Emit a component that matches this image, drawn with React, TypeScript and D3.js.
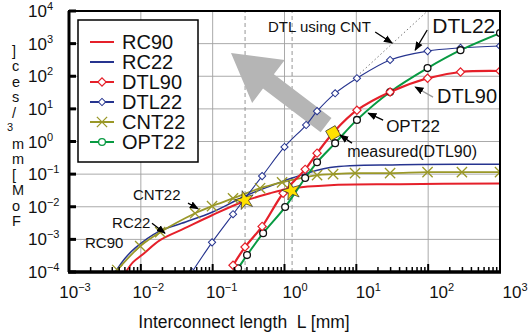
import React, { useRef, useEffect } from "react";
import * as d3 from "d3";

// L [mm] and FoM values
const rc90L = [0.0062, 0.0078, 0.0107, 0.0185, 0.041, 0.098, 0.28, 0.63, 1.28, 4.3, 41, 1000];
const rc90V = [1e-4, 2.0e-4, 3.5e-4, 9.5e-4, 2.2e-3, 5.5e-3, 1.5e-2, 2.6e-2, 3.7e-2, 4.6e-2, 4.9e-2, 5.2e-2];

const rc22L = [0.0044, 0.006, 0.0083, 0.0174, 0.042, 0.098, 0.28, 0.63, 1.28, 4.3, 41, 1000];
const rc22V = [1e-4, 2.6e-4, 5.4e-4, 1.7e-3, 3.4e-3, 6.8e-3, 2.1e-2, 4.3e-2, 7.6e-2, 0.16, 0.195, 0.2];

const cnt22L = [0.0047, 0.0098, 0.0186, 0.057, 0.098, 0.192, 0.457, 0.925, 2.84, 4.75, 9.6, 29.5, 98, 295, 1000];
const cnt22V = [1.15e-4, 6.2e-4, 1.66e-3, 6.3e-3, 1.05e-2, 1.8e-2, 3.7e-2, 5.6e-2, 9.3e-2, 0.1, 0.107, 0.107, 0.115, 0.115, 0.115];

const dtl90L = [0.192, 0.282, 0.488, 0.957, 1.94, 2.84, 5.0, 10.2, 29.5, 98, 282, 1000];
const dtl90V = [1.6e-4, 5.8e-4, 2.5e-3, 2.6e-2, 0.14, 0.44, 2.1, 9.1, 33, 87, 135, 145];

const opt22L = [0.226, 0.301, 0.504, 1.02, 1.94, 2.84, 5.07, 10.2, 29.5, 98, 282, 1000];
const opt22V = [1.3e-4, 3.3e-4, 1.55e-3, 9.8e-3, 7.6e-2, 0.23, 0.89, 4.6, 33, 178, 630, 2100];

const dtl22L = [0.0516, 0.098, 0.192, 0.488, 1.0, 2.0, 2.84, 5.07, 10.2, 29.5, 98, 282, 1000];
const dtl22V = [1e-4, 8.1e-4, 5.9e-3, 8.7e-2, 0.68, 3.2, 8.5, 30, 87, 316, 590, 740, 850];

// DTL using CNT (dotted extension)
const cntDtlL = [10.2, 98];
const cntDtlV = [100, 10000];

// RC / DTL crossover points (yellow stars) and the measured point
const starL = [0.28, 1.25];
const starV = [0.0158, 0.031];
const measuredL = [4.75];
const measuredV = [1.81];
const dashedL = [0.2825, 1.276];

const xExps = [-3, -2, -1, 0, 1, 2, 3];
const yExps = [-4, -3, -2, -1, 0, 1, 2, 3, 4];
const yTitleChars = ["]", "c", "e", "s", "/", "3", "m", "m", "[", "M", "o", "F"];

const legendNames = ["RC90", "RC22", "DTL90", "DTL22", "CNT22", "OPT22"];

// labels placed in data units: [text, L, V, fontSize]
const labels: [string, number, number, number][] = [
  ["DTL using CNT", 0.59, 2270, 15],
  ["DTL22", 114, 2110, 21],
  ["DTL90", 133, 15, 20],
  ["OPT22", 26, 1.94, 17],
  ["measured(DTL90)", 7.45, 0.332, 16],
  ["CNT22", 0.00778, 0.0158, 15],
  ["RC22", 0.00398, 0.00221, 15],
  ["RC90", 0.00167, 0.000537, 15],
];

// leader arrows: [L0, V0, L1, V1, color]
const leaders: [number, number, number, number, string][] = [
  [18.3, 2270, 31.5, 1040, "#000"],
  [97, 2610, 65.9, 630, "#000"],
  [117, 23, 65.9, 46.7, "#999"],
  [23.6, 4.53, 14.6, 7.4, "#000"],
  [8.7, 0.89, 5.94, 1.57, "#000"],
  [0.0454, 0.0129, 0.0627, 0.0087, "#000"],
  [0.0143, 0.00314, 0.0217, 0.00155, "#000"],
];

// big gray arrow tail -> tip
const bigArrowL = [3.79, 0.18];
const bigArrowV = [3.18, 515];

const RED = "#e5202a";
const BLUE = "#26348f";
const OLIVE = "#9a9828";
const GREEN = "#089a42";

const App = () => {
  const svgRef = useRef<SVGSVGElement>(null);

  useEffect(() => {
    document.body.style.margin = "0";
    const svg = d3.select(svgRef.current);
    svg.selectAll("*").remove();

    const W = 529, H = 334;
    const margin = { top: 11, right: 29, bottom: 62, left: 69 };
    const font = "Liberation Sans, Arial, sans-serif";

    svg.attr("width", W).attr("height", H).style("display", "block").style("background", "#fff");

    const x = d3.scaleLog().domain([1e-3, 1e3]).range([margin.left, W - margin.right]);
    const y = d3.scaleLog().domain([1e-4, 1e4]).range([H - margin.bottom, margin.top]);
    const x0 = margin.left, x1 = W - margin.right, y0 = H - margin.bottom, y1 = margin.top;

    svg.append("defs").append("clipPath").attr("id", "plotclip")
      .append("rect").attr("x", x0).attr("y", y1).attr("width", x1 - x0).attr("height", y0 - y1);

    // grid
    const grid = svg.append("g");
    xExps.forEach(e => {
      grid.append("line").attr("x1", x(10 ** e)).attr("x2", x(10 ** e)).attr("y1", y0).attr("y2", y1)
        .attr("stroke", "#a0a0a0").attr("stroke-width", 0.9);
    });
    yExps.forEach(e => {
      grid.append("line").attr("x1", x0).attr("x2", x1).attr("y1", y(10 ** e)).attr("y2", y(10 ** e))
        .attr("stroke", "#a0a0a0").attr("stroke-width", 0.9);
    });
    dashedL.forEach(d => {
      grid.append("line").attr("x1", x(d)).attr("x2", x(d)).attr("y1", y0).attr("y2", y1)
        .attr("stroke", "#8a8a8a").attr("stroke-width", 0.9).attr("stroke-dasharray", "4,3");
    });

    // big gray arrow
    {
      const tx = x(bigArrowL[0]), ty = y(bigArrowV[0]);
      const hx = x(bigArrowL[1]), hy = y(bigArrowV[1]);
      const len = Math.hypot(hx - tx, hy - ty);
      const ux = (hx - tx) / len, uy = (hy - ty) / len;
      const px = -uy, py = ux;
      const headLen = 47, headW = 27, shaftW = 9;
      const bx = hx - ux * headLen, by = hy - uy * headLen;
      const pts: [number, number][] = [
        [tx + px * shaftW, ty + py * shaftW],
        [bx + px * shaftW, by + py * shaftW],
        [bx + px * headW, by + py * headW],
        [hx, hy],
        [bx - px * headW, by - py * headW],
        [bx - px * shaftW, by - py * shaftW],
        [tx - px * shaftW, ty - py * shaftW],
      ];
      svg.append("path").attr("d", "M" + pts.map(p => p.join(",")).join("L") + "Z").attr("fill", "#b5b5b5");
    }

    const plot = svg.append("g").attr("clip-path", "url(#plotclip)");
    const line = d3.line<[number, number]>().x(d => x(d[0])).y(d => y(d[1])).curve(d3.curveCatmullRom.alpha(0.5));
    const zip = (a: number[], b: number[]) => a.map((v, i) => [v, b[i]] as [number, number]);

    // dotted DTL using CNT
    plot.append("path").datum(zip(cntDtlL, cntDtlV)).attr("d", d3.line<[number, number]>().x(d => x(d[0])).y(d => y(d[1])))
      .attr("fill", "none").attr("stroke", "#777").attr("stroke-width", 1).attr("stroke-dasharray", "1.5,2.5");

    const series = [
      { L: rc22L, V: rc22V, color: BLUE, w: 1.5, marker: "none" },
      { L: cnt22L, V: cnt22V, color: OLIVE, w: 1.8, marker: "x" },
      { L: rc90L, V: rc90V, color: RED, w: 2, marker: "none" },
      { L: dtl22L, V: dtl22V, color: BLUE, w: 1.1, marker: "smalldiamond" },
      { L: opt22L, V: opt22V, color: GREEN, w: 2, marker: "circle" },
      { L: dtl90L, V: dtl90V, color: RED, w: 2.2, marker: "diamond" },
    ];

    const drawMarker = (g: any, kind: string, cx: number, cy: number, color: string) => {
      if (kind === "diamond") {
        g.append("path").attr("d", d3.symbol(d3.symbolSquare).size(34)()).attr("transform", `translate(${cx},${cy}) rotate(45)`)
          .attr("fill", "#fff").attr("stroke", color).attr("stroke-width", 1.2);
      } else if (kind === "smalldiamond") {
        g.append("path").attr("d", d3.symbol(d3.symbolSquare).size(26)()).attr("transform", `translate(${cx},${cy}) rotate(45)`)
          .attr("fill", "#fff").attr("stroke", color).attr("stroke-width", 1);
      } else if (kind === "circle") {
        g.append("circle").attr("cx", cx).attr("cy", cy).attr("r", 3.4)
          .attr("fill", "#fff").attr("stroke", color).attr("stroke-width", 1.3);
      } else if (kind === "x") {
        g.append("path").attr("d", d3.symbol(d3.symbolTimes).size(70)()).attr("transform", `translate(${cx},${cy})`)
          .attr("fill", "none").attr("stroke", color).attr("stroke-width", 1.3);
      }
    };

    series.forEach(s => {
      plot.append("path").datum(zip(s.L, s.V)).attr("d", line)
        .attr("fill", "none").attr("stroke", s.color).attr("stroke-width", s.w);
    });
    series.forEach(s => {
      if (s.marker === "none") return;
      const mc = s.marker === "circle" ? "#111" : s.color;
      s.L.forEach((l, i) => drawMarker(plot, s.marker, x(l), y(s.V[i]), mc));
    });

    // yellow stars and measured point
    starL.forEach((l, i) => {
      svg.append("path").attr("d", d3.symbol(d3.symbolStar).size(110)())
        .attr("transform", `translate(${x(l)},${y(starV[i])}) rotate(-15)`)
        .attr("fill", "#ffe100").attr("stroke", "#333").attr("stroke-width", 0.7);
    });
    measuredL.forEach((l, i) => {
      svg.append("path").attr("d", d3.symbol(d3.symbolSquare).size(120)())
        .attr("transform", `translate(${x(l)},${y(measuredV[i])}) rotate(-30)`)
        .attr("fill", "#ffe100").attr("stroke", "#333").attr("stroke-width", 0.7);
    });

    // leaders
    svg.append("defs").html(
      `<marker id="ah" viewBox="0 0 10 10" refX="9" refY="5" markerWidth="7" markerHeight="7" orient="auto"><path d="M0,1 L10,5 L0,9 Z" fill="#000"/></marker>`
    );
    leaders.forEach(([a, b, c, d, col]) => {
      svg.append("line").attr("x1", x(a)).attr("y1", y(b)).attr("x2", x(c)).attr("y2", y(d))
        .attr("stroke", col).attr("stroke-width", 1.3).attr("marker-end", "url(#ah)");
    });

    labels.forEach(([t, l, v, fs]) => {
      svg.append("text").attr("x", x(l)).attr("y", y(v)).attr("font-family", font).attr("font-size", fs)
        .attr("fill", "#111").text(t);
    });

    // axes frame
    svg.append("rect").attr("x", x0).attr("y", y1).attr("width", x1 - x0).attr("height", y0 - y1)
      .attr("fill", "none").attr("stroke", "#000").attr("stroke-width", 2);
    svg.append("line").attr("x1", x0 - 1).attr("x2", x1 + 1).attr("y1", y0).attr("y2", y0).attr("stroke", "#000").attr("stroke-width", 3.5);
    svg.append("line").attr("x1", x0).attr("x2", x0).attr("y1", y1).attr("y2", y0).attr("stroke", "#000").attr("stroke-width", 3);

    // x ticks (inside)
    xExps.slice(0, -1).forEach(e => {
      d3.range(1, 10).forEach(k => {
        const v = k * 10 ** e;
        svg.append("line").attr("x1", x(v)).attr("x2", x(v)).attr("y1", y0).attr("y2", y0 - (k === 1 ? 8 : 5))
          .attr("stroke", "#000").attr("stroke-width", k === 1 ? 2 : 1.5);
      });
    });
    // y ticks (inside)
    yExps.forEach(e => {
      svg.append("line").attr("x1", x0).attr("x2", x0 + 7).attr("y1", y(10 ** e)).attr("y2", y(10 ** e))
        .attr("stroke", "#000").attr("stroke-width", 3);
    });

    // tick labels
    const xLab = d3.scaleLinear().domain([-3, 3]).range([75, 515]);
    xExps.forEach(e => {
      const t = svg.append("text").attr("x", xLab(e)).attr("y", 298).attr("text-anchor", "middle")
        .attr("font-family", font).attr("font-size", 17).attr("fill", "#111");
      t.append("tspan").text("10");
      t.append("tspan").attr("dy", -7).attr("font-size", 11).text(e < 0 ? "\u2212" + -e : String(e));
    });
    yExps.forEach(e => {
      const t = svg.append("text").attr("x", 28).attr("y", y(10 ** e) + 6)
        .attr("font-family", font).attr("font-size", 17).attr("fill", "#111");
      t.append("tspan").text("10");
      t.append("tspan").attr("dy", -7).attr("font-size", 11).text(e < 0 ? "\u2212" + -e : String(e));
    });

    // axis titles
    svg.append("text").attr("x", 244).attr("y", 328).attr("text-anchor", "middle")
      .attr("font-family", font).attr("font-size", 17.5).attr("fill", "#111")
      .attr("xml:space", "preserve").text("Interconnect length  L [mm]");
    const yt = d3.scaleLinear().domain([0, yTitleChars.length - 1]).range([56, 226]);
    yTitleChars.forEach((c, i) => {
      svg.append("text").attr("x", c === "3" ? 7 : 12).attr("y", yt(i) - (c === "3" ? 2 : 0))
        .attr("font-family", font).attr("font-size", c === "3" ? 11 : 14.5).attr("fill", "#111").text(c);
    });

    // legend
    const lg = svg.append("g");
    lg.append("rect").attr("x", 78).attr("y", 20).attr("width", 120).attr("height", 142)
      .attr("fill", "#fff").attr("stroke", "#000").attr("stroke-width", 1.5);
    const legRow = d3.scaleLinear().domain([0, 5]).range([42, 142]);
    const legMark = ["none", "none", "diamond", "smalldiamond", "x", "circle"];
    const legCol = [RED, BLUE, RED, BLUE, OLIVE, GREEN];
    legendNames.forEach((n, i) => {
      const yy = legRow(i);
      lg.append("line").attr("x1", 90).attr("x2", 114).attr("y1", yy).attr("y2", yy)
        .attr("stroke", legCol[i]).attr("stroke-width", 2);
      drawMarker(lg, legMark[i], 102, yy, legCol[i]);
      lg.append("text").attr("x", 122).attr("y", yy + 7).attr("font-family", font).attr("font-size", 20)
        .attr("fill", "#111").text(n);
    });
  }, []);

  return <svg ref={svgRef}></svg>;
};

export default App;
